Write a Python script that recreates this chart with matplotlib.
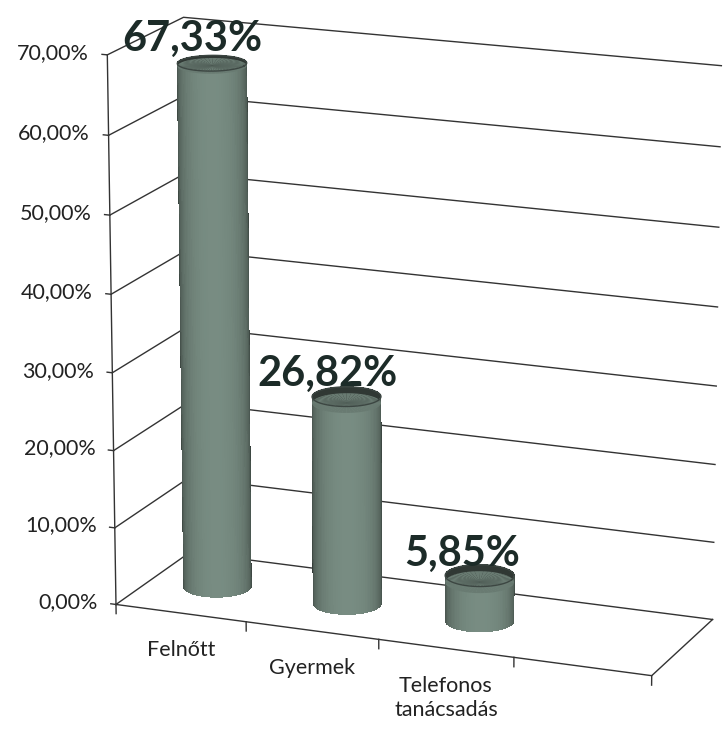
"""3-D cylinder column chart: share of counselling types (Felnőtt / Gyermek / Telefonos)."""
import numpy as np
import matplotlib
matplotlib.use("Agg")
import matplotlib.pyplot as plt
from mpl_toolkits.mplot3d import proj3d

CATEGORIES = ["Felnőtt", "Gyermek", "Telefonos\ntanácsadás"]
VALUES = [67.33, 26.82, 5.85]
VALUE_LABELS = ["67,33%", "26,82%", "5,85%"]
Y_TICKS = [0, 10, 20, 30, 40, 50, 60, 70]
Y_TICK_LABELS = ["0,00%", "10,00%", "20,00%", "30,00%",
                 "40,00%", "50,00%", "60,00%", "70,00%"]
N_SLOTS = 4  # the floor has one empty slot on the right, as in the original

LINE = "#333333"
TEXT_DARK = "#1c2b28"
BAR_RGB = np.array([0.47, 0.55, 0.51])

BOX = (585, 185, 580)
R_X = 0.24
R_Y = R_X * (BOX[0] / N_SLOTS) / BOX[1]

plt.rcParams["font.family"] = ["Lato", "DejaVu Sans"]

fig = plt.figure(figsize=(7.24, 7.35), dpi=100)
ax = fig.add_axes([0.057, 0.024, 1.0, 1.0], projection="3d", computed_zorder=False)
ax.set_proj_type("persp", focal_length=1.4)
ax.view_init(elev=16, azim=-68)
ax.set_box_aspect(BOX, zoom=1.12)

# walls: left wall + back wall gridlines
for v in Y_TICKS:
    ax.plot([0, 0, N_SLOTS], [0, 1, 1], [v, v, v], color=LINE, lw=1.0, zorder=1)
# floor outline (front and right edges)
ax.plot([0, N_SLOTS, N_SLOTS], [0, 0, 1], [0, 0, 0], color=LINE, lw=1.0, zorder=1)
# value axis line + ticks
ax.plot([0, 0], [0, 0], [0, Y_TICKS[-1]], color=LINE, lw=1.0, zorder=1)
for v in Y_TICKS:
    ax.plot([0, -0.04], [0, 0], [v, v], color=LINE, lw=1.0, zorder=1)
for i in range(N_SLOTS + 1):
    ax.plot([i, i], [0, 0], [0, -1.2], color=LINE, lw=1.0, zorder=1)

# cylinders
theta = np.linspace(0, 2 * np.pi, 97)
th_cam = np.deg2rad(-68)
for i, v in enumerate(VALUES):
    xc, yc = i + 0.5, 0.5
    th, zz = np.meshgrid(theta, [0, v])
    X = xc + R_X * np.cos(th)
    Y = yc + R_Y * np.sin(th)
    shade = np.clip(np.cos(th - th_cam), 0, 1) ** 0.6
    k = 0.4 + 0.6 * shade
    cols = np.ones(th.shape + (4,))
    cols[..., :3] = np.clip(BAR_RGB[None, None, :] * k[..., None], 0, 1)
    ax.plot_surface(X, Y, zz, facecolors=cols, shade=False, linewidth=0,
                    rstride=1, cstride=1, antialiased=False, zorder=2 + 2 * i)
    rr, th2 = np.meshgrid([0, 1], theta)
    ax.plot_surface(xc + R_X * rr * np.cos(th2), yc + R_Y * rr * np.sin(th2),
                    np.full_like(rr, v), color=BAR_RGB * 0.88, shade=False,
                    linewidth=0, zorder=3 + 2 * i)
    ax.plot(xc + R_X * np.cos(theta), yc + R_Y * np.sin(theta),
            np.full_like(theta, v), color="#3c4642", lw=1.0, zorder=3 + 2 * i)

ax.set_xlim(0, N_SLOTS)
ax.set_ylim(0, 1)
ax.set_zlim(0, Y_TICKS[-1])
ax.set_axis_off()

# texts: project the 3-D anchor points and place plain 2-D texts there
fig.canvas.draw()


def text_at(x, y, z, s, **kw):
    px, py, _ = proj3d.proj_transform(x, y, z, ax.M)
    return ax.text2D(px, py, s, transform=ax.transData, **kw)


for v, lab in zip(Y_TICKS, Y_TICK_LABELS):
    text_at(-0.14, 0, v, lab, ha="right", va="center", fontsize=15.5,
            color="#222222", zorder=20)
for i, cat in enumerate(CATEGORIES):
    text_at(i + 0.5, 0, -3.5, cat, ha="center", va="top", fontsize=15.5,
            linespacing=1.3, color="#222222", zorder=20)
for i, (v, lab) in enumerate(zip(VALUES, VALUE_LABELS)):
    text_at(i + 0.46, 0.5 - R_Y, v + 1.5, lab, ha="center", va="bottom",
            fontsize=30, fontweight="bold", color=TEXT_DARK, zorder=30)

fig.savefig("out.png", dpi=100)
